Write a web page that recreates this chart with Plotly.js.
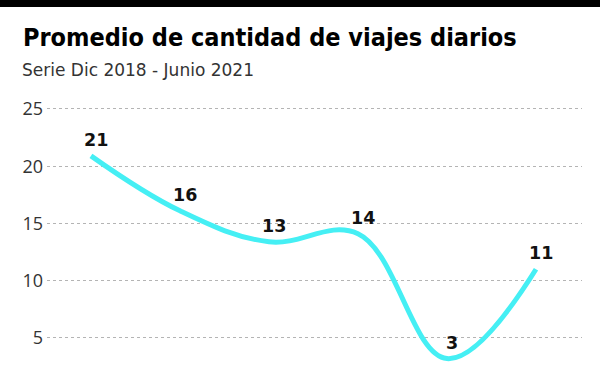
<!DOCTYPE html>
<html>
<head>
<meta charset="utf-8">
<script src="https://cdn.plot.ly/plotly-3.0.1.min.js"></script>
<style>
html,body{margin:0;padding:0;background:#fff;}
#chart{width:600px;height:365px;}
</style>
</head>
<body>
<div id="chart"></div>
<script>
// Data
const periodos = [0, 1, 2, 3, 4, 5];            // six observations, Dic 2018 - Junio 2021
const viajes = [20.9, 16.1, 13.4, 14.1, 3.2, 11.0];
const yTicks = [5, 10, 15, 20, 25];

const titleText = "Promedio de cantidad de viajes diarios";
const subtitleText = "Serie Dic 2018 - Junio 2021";

const trace = {
  x: periodos,
  y: viajes,
  type: 'scatter',
  mode: 'lines',
  line: {color: '#45eff4', width: 5, shape: 'spline', smoothing: 1.1},
  hoverinfo: 'skip'
};

const labelAnn = periodos.map((p, i) => ({
  x: p, y: viajes[i], xref: 'x', yref: 'y',
  text: String(Math.round(viajes[i])),
  showarrow: false, xanchor: 'center', yanchor: 'middle',
  xshift: 5, yshift: 16,
  font: {family: 'DejaVu Sans', size: 17.5, color: '#111', weight: 'bold'}
}));

const layout = {
  width: 600, height: 365,
  margin: {l: 47, r: 18, t: 92, b: 0},
  paper_bgcolor: '#fff', plot_bgcolor: '#fff',
  showlegend: false,
  xaxis: {
    range: [-0.494, 5.517],
    showgrid: false, zeroline: false, showline: false,
    showticklabels: false, ticks: ''
  },
  yaxis: {
    range: [2.64, 26.48],
    tickvals: yTicks,
    ticktext: yTicks.map(String),
    showgrid: true, gridcolor: '#b4b4b4', griddash: 'dot', gridwidth: 1,
    zeroline: false, showline: false, ticks: '',
    ticklabelstandoff: 3,
    tickfont: {family: 'Open Sans', size: 18, color: '#333'}
  },
  shapes: [{
    type: 'rect', xref: 'paper', yref: 'paper',
    x0: -0.2, x1: 1.2, y0: (365 - 7) / 273, y1: 1.4,
    fillcolor: '#000', line: {width: 0}, layer: 'above'
  }],
  annotations: [
    {
      text: titleText, xref: 'paper', yref: 'paper',
      x: (21 - 47) / 535, y: (365 - 37) / 273,
      xanchor: 'left', yanchor: 'middle', showarrow: false,
      font: {family: 'DejaVu Sans Condensed, Roboto Condensed, Roboto', size: 25, color: '#000', weight: 'bold'}
    },
    {
      text: subtitleText, xref: 'paper', yref: 'paper',
      x: (20 - 47) / 535, y: (365 - 70) / 273,
      xanchor: 'left', yanchor: 'middle', showarrow: false,
      font: {family: 'DejaVu Sans', size: 17, color: '#333'}
    }
  ].concat(labelAnn)
};

Plotly.newPlot('chart', [trace], layout, {displayModeBar: false, staticPlot: true});
</script>
</body>
</html>
